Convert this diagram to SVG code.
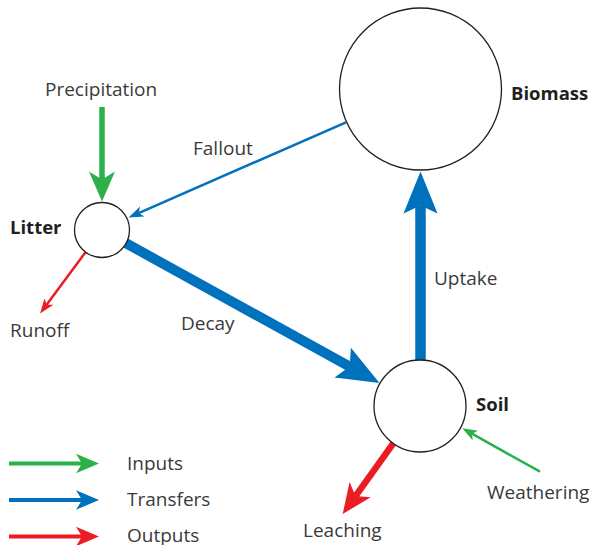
<svg xmlns="http://www.w3.org/2000/svg" width="594" height="545" viewBox="0 0 594 545">
<style>
.node{fill:#fff;stroke:#231f20;stroke-width:1.3}
.lbl{font-family:"Open Sans","Noto Sans",sans-serif;font-size:19px;fill:#3a3a3a}
.bold{font-weight:bold;font-size:18.5px;fill:#231f20}
.c{fill:none;stroke-linecap:butt}
.g{stroke:#2bb04a}.b{stroke:#0071bc}.r{stroke:#ec1c24}
</style>
<defs>
<marker id="tg" markerUnits="userSpaceOnUse" orient="auto" refX="4" refY="0" overflow="visible"><path d="M15,0 L0,-5.5 L4,0 L0,5.5 Z" fill="#2bb04a"/></marker>
<marker id="tb" markerUnits="userSpaceOnUse" orient="auto" refX="4" refY="0" overflow="visible"><path d="M15,0 L0,-5.5 L4,0 L0,5.5 Z" fill="#0071bc"/></marker>
<marker id="tr" markerUnits="userSpaceOnUse" orient="auto" refX="4" refY="0" overflow="visible"><path d="M15,0 L0,-5.5 L4,0 L0,5.5 Z" fill="#ec1c24"/></marker>
<marker id="mg" markerUnits="userSpaceOnUse" orient="auto" refX="8" refY="0" overflow="visible"><path d="M30,0 L0,-13 L8,0 L0,13 Z" fill="#2bb04a"/></marker>
<marker id="mr" markerUnits="userSpaceOnUse" orient="auto" refX="8" refY="0" overflow="visible"><path d="M30,0 L0,-13 L8,0 L0,13 Z" fill="#ec1c24"/></marker>
<marker id="kb" markerUnits="userSpaceOnUse" orient="auto" refX="8" refY="0" overflow="visible"><path d="M42,0 L0,-17 L8,0 L0,17 Z" fill="#0071bc"/></marker>
<marker id="lg" markerUnits="userSpaceOnUse" orient="auto" refX="6" refY="0" overflow="visible"><path d="M23,0 L0,-9.7 L6,0 L0,9.7 Z" fill="#2bb04a"/></marker>
<marker id="lb" markerUnits="userSpaceOnUse" orient="auto" refX="6" refY="0" overflow="visible"><path d="M23,0 L0,-9.7 L6,0 L0,9.7 Z" fill="#0071bc"/></marker>
<marker id="lr" markerUnits="userSpaceOnUse" orient="auto" refX="6" refY="0" overflow="visible"><path d="M23,0 L0,-9.7 L6,0 L0,9.7 Z" fill="#ec1c24"/></marker>
</defs>
<g id="connectors">
<line id="precipitation" class="c g" x1="102" y1="107" x2="102" y2="179.5" stroke-width="5.5" marker-end="url(#mg)"/>
<line id="fallout" class="c b" x1="346" y1="122.3" x2="138.6" y2="213.1" stroke-width="2.5" marker-end="url(#tb)"/>
<line id="decay" class="c b" x1="102" y1="230" x2="349.7" y2="366.6" stroke-width="10" marker-end="url(#kb)"/>
<line id="uptake" class="c b" x1="420.5" y1="406" x2="420.5" y2="205.5" stroke-width="10.5" marker-end="url(#kb)"/>
<line id="runoff" class="c r" x1="102" y1="230" x2="46.6" y2="304.7" stroke-width="2.5" marker-end="url(#tr)"/>
<line id="weathering" class="c g" x1="540" y1="471.7" x2="471.9" y2="433.7" stroke-width="2.5" marker-end="url(#tg)"/>
<line id="leaching" class="c r" x1="420" y1="406" x2="355.5" y2="496.1" stroke-width="6.5" marker-end="url(#mr)"/>
</g>
<g id="litter"><circle class="node" cx="102" cy="230" r="27.5"/><text class="lbl bold" x="10" y="234">Litter</text></g>
<g id="biomass"><circle class="node" cx="420.5" cy="89" r="81"/><text class="lbl bold" x="511" y="100">Biomass</text></g>
<g id="soil"><circle class="node" cx="420" cy="406" r="46"/><text class="lbl bold" x="476" y="411">Soil</text></g>
<g id="labels">
<text class="lbl" x="45" y="96">Precipitation</text>
<text class="lbl" x="193" y="155">Fallout</text>
<text class="lbl" x="10" y="337">Runoff</text>
<text class="lbl" x="181" y="330">Decay</text>
<text class="lbl" x="434" y="285">Uptake</text>
<text class="lbl" x="487" y="499">Weathering</text>
<text class="lbl" x="303" y="537">Leaching</text>
</g>
<g id="legend">
<line class="c g" x1="9" y1="463.5" x2="82" y2="463.5" stroke-width="4" marker-end="url(#lg)"/>
<line class="c b" x1="9" y1="500" x2="82" y2="500" stroke-width="4" marker-end="url(#lb)"/>
<line class="c r" x1="9" y1="536.5" x2="82" y2="536.5" stroke-width="4" marker-end="url(#lr)"/>
<text class="lbl" x="127" y="470">Inputs</text>
<text class="lbl" x="127" y="506">Transfers</text>
<text class="lbl" x="127" y="542">Outputs</text>
</g>
</svg>
